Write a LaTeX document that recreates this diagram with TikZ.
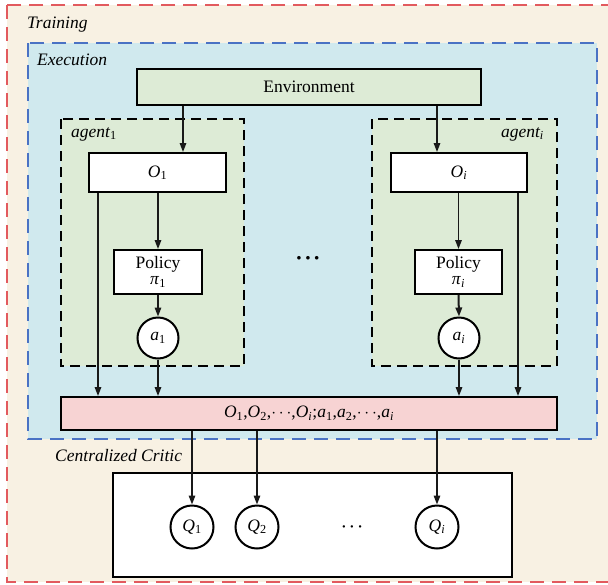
\documentclass[tikz,border=0pt]{standalone}
\usepackage{fontspec}
\setmainfont{Liberation Serif}
\usetikzlibrary{arrows.meta}
\definecolor{outerfill}{HTML}{F8F1E3}
\definecolor{execfill}{HTML}{D0E9EE}
\definecolor{greenfill}{HTML}{DDEBD6}
\definecolor{pinkfill}{HTML}{F7D3D3}
\definecolor{reddash}{HTML}{E25A5E}
\definecolor{bluedash}{HTML}{4A72C4}
\newcommand{\sbs}[1]{\textsubscript{#1}}
\tikzset{
  box/.style={draw=black, line width=2pt, fill=white, inner sep=0pt, rectangle},
  circ/.style={draw=black, line width=2pt, fill=white, inner sep=0pt, circle},
  arr/.style={-{Triangle[length=9pt,width=6.5pt]}, line width=1.5pt, draw=black!90},
  agentbox/.style={draw=black, dash pattern=on 10pt off 6pt, line width=2pt, fill=greenfill},
  lbl/.style={inner sep=0pt, font=\fontsize{17.5}{18}\selectfont\itshape},
}
\begin{document}
\begin{tikzpicture}[x=1pt,y=-1pt, font=\fontsize{17.5}{18}\selectfont]
\useasboundingbox (0,0) rectangle (608,584);
% regions
\draw[draw=reddash, fill=outerfill, line width=1.8pt, dash pattern=on 14pt off 8pt] (7,5) rectangle (614,582);
\draw[draw=bluedash, fill=execfill, line width=1.8pt, dash pattern=on 14pt off 8pt] (28,43) rectangle (597,439);
\draw[agentbox] (61,119) rectangle (244,366);
\draw[agentbox] (372,119) rectangle (557,366);
% labels
\node[lbl, anchor=base west] (ltrain) at (27,28) {Training};
\node[lbl, anchor=base west] (lexec) at (37,65) {Execution};
\node[lbl, anchor=base west] (lag1) at (71,137) {agent{\upshape\sbs{1}}};
\node[lbl, anchor=base east] (lagi) at (544,137) {agent\sbs{i}};
\node[lbl, anchor=base west] (lcrit) at (55,461) {Centralized Critic};
% nodes
\node[box, fill=greenfill, minimum width=344pt, minimum height=36pt] (env) at (309,87) {Environment};
\node[box, minimum width=137pt, minimum height=39pt] (O1) at (157.5,172.5) {\textit{O}\sbs{1}};
\node[box, minimum width=136pt, minimum height=39pt] (Oi) at (459,172.5) {\textit{O}\sbs{\textit{i}}};
\node[box, minimum width=88pt, minimum height=44pt, align=center, font=\fontsize{17.5}{16}\selectfont] (P1) at (158,272) {Policy\\\textit{π}\sbs{1}};
\node[box, minimum width=87pt, minimum height=44pt, align=center, font=\fontsize{17.5}{16}\selectfont] (Pi) at (458.5,272) {Policy\\\textit{π}\sbs{\textit{i}}};
\node[circ, minimum size=41pt] (a1) at (158,338) {\textit{a}\sbs{1}};
\node[circ, minimum size=41pt] (ai) at (459,338) {\textit{a}\sbs{\textit{i}}};
\node[inner sep=0pt, font=\fontsize{22}{22}\selectfont] (dotsA) at (308,261) {\textbf{·\kern1.5pt·\kern1.5pt·}};
\node[box, fill=pinkfill, minimum width=496pt, minimum height=33pt] (pink) at (309,413.5)
  {\textit{O}\sbs{1},\textit{O}\sbs{2},$\cdots$,\textit{O}\sbs{\textit{i}};\textit{a}\sbs{1},\textit{a}\sbs{2},$\cdots$,\textit{a}\sbs{\textit{i}}};
\node[box, minimum width=399pt, minimum height=104pt] (critic) at (312.5,525) {};
\node[circ, minimum size=43pt] (Q1) at (192,527) {\textit{Q}\sbs{1}};
\node[circ, minimum size=43pt] (Q2) at (257,527) {\textit{Q}\sbs{2}};
\node[circ, minimum size=43pt] (Qi) at (437,527) {\textit{Q}\sbs{\textit{i}}};
\node[inner sep=0pt, font=\fontsize{20}{20}\selectfont] (dotsC) at (352,530) {·\kern1.5pt·\kern1.5pt·};
% connectors
\draw[arr] (183,0 |- env.south) -- (183,0 |- O1.north);
\draw[arr] (437,0 |- env.south) -- (437,0 |- Oi.north);
\draw[arr] (O1.south -| P1.north) -- (P1.north);
\draw[arr] (Oi.south -| Pi.north) -- (Pi.north);
\draw[arr] (P1.south) -- (a1.north);
\draw[arr, line width=2pt] (Pi.south) -- (ai.north);
\draw[arr] (a1.south) -- (a1.south |- pink.north);
\draw[arr] (ai.south) -- (ai.south |- pink.north);
\draw[arr] (98,0 |- O1.south) -- (98,0 |- pink.north);
\draw[arr] (518,0 |- Oi.south) -- (518,0 |- pink.north);
\draw[arr] (Q1.north |- pink.south) -- (Q1.north);
\draw[arr] (Q2.north |- pink.south) -- (Q2.north);
\draw[arr] (Qi.north |- pink.south) -- (Qi.north);
\end{tikzpicture}
\end{document}
